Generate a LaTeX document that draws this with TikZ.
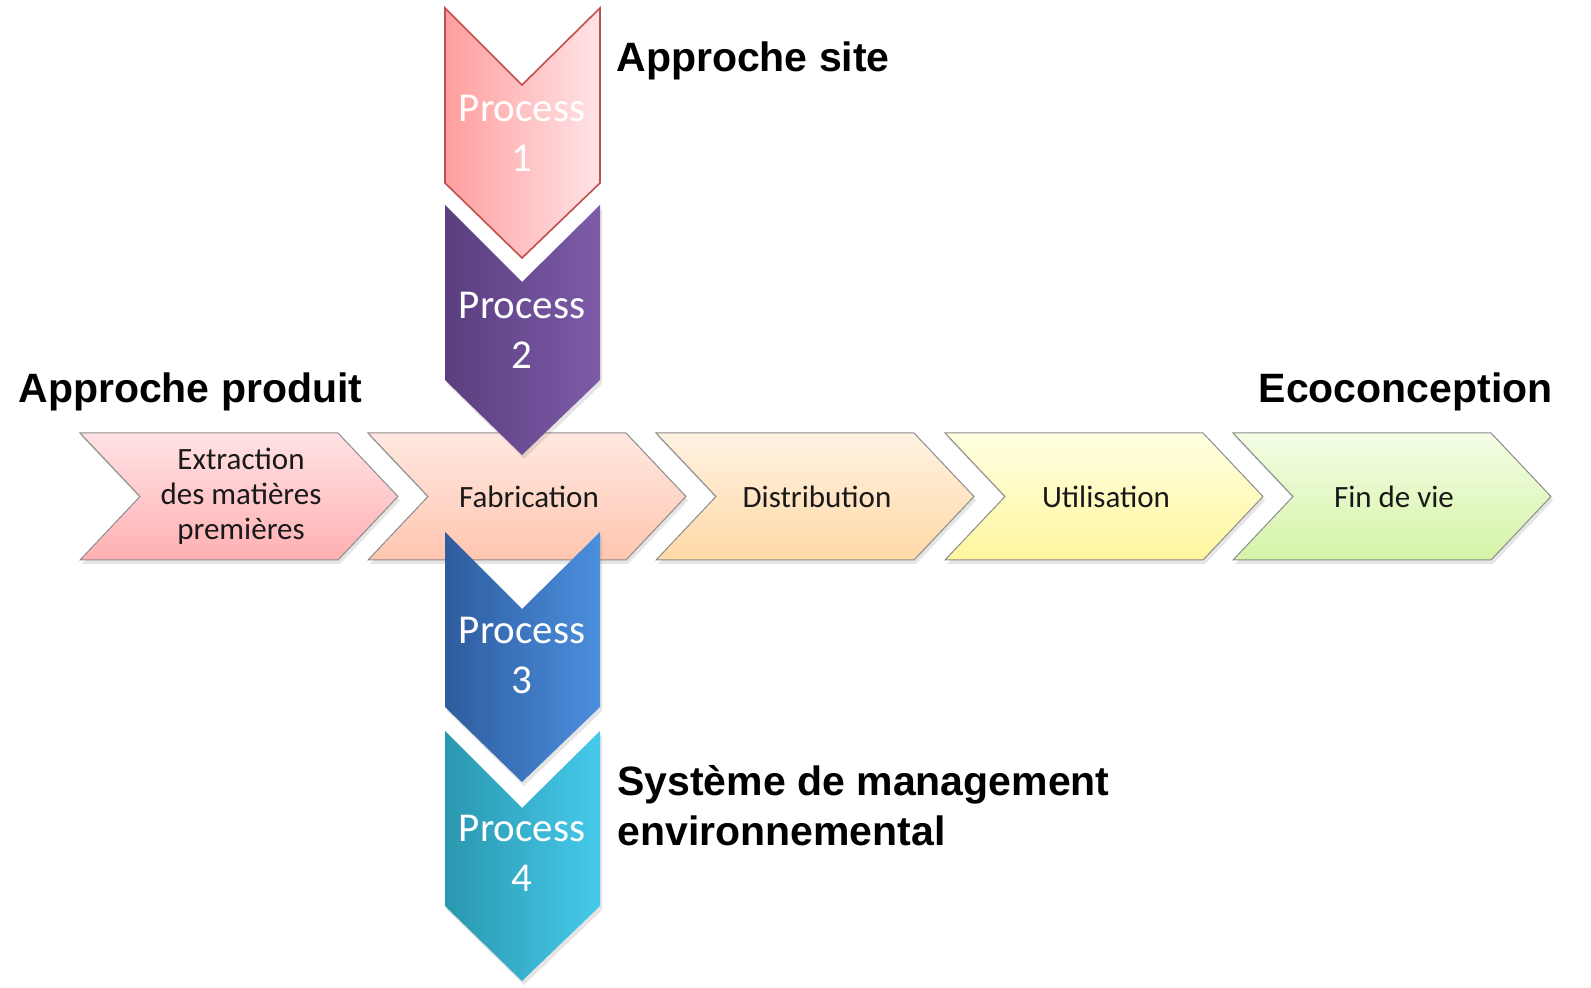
\documentclass[tikz,border=0pt]{standalone}
\usepackage{fontspec}
\newfontfamily\labelfont{Liberation Sans}
\newfontfamily\boxfont{Carlito}
\usetikzlibrary{shadows}

\definecolor{extrtop}{HTML}{FFE2E4}
\definecolor{extrbot}{HTML}{FFB0B2}
\definecolor{fabtop}{HTML}{FFE8E0}
\definecolor{fabbot}{HTML}{FFC6B0}
\definecolor{distop}{HTML}{FFF2E2}
\definecolor{disbot}{HTML}{FFD9A6}
\definecolor{utitop}{HTML}{FFFFE2}
\definecolor{utibot}{HTML}{FFF69E}
\definecolor{fintop}{HTML}{F3FDE6}
\definecolor{finbot}{HTML}{D5F4A6}
\definecolor{procAleft}{HTML}{FF9E9E}
\definecolor{procAright}{HTML}{FFE4E7}
\definecolor{procAline}{HTML}{C0504D}
\definecolor{procBleft}{HTML}{5A3E7E}
\definecolor{procBright}{HTML}{7E5BA9}
\definecolor{procCleft}{HTML}{2E5C9E}
\definecolor{procCright}{HTML}{4B8FDD}
\definecolor{procDleft}{HTML}{2A97AE}
\definecolor{procDright}{HTML}{46CAEC}

\begin{document}
\begin{tikzpicture}[
    x=0.5pt, y=-0.5pt,
    stage/.style={draw=black!45, line width=0.5pt, drop shadow={shadow xshift=1pt, shadow yshift=-2pt, opacity=0.2}},
    process/.style={drop shadow={shadow xshift=1pt, shadow yshift=-2pt, opacity=0.2}},
    stagetext/.style={align=center, font=\boxfont\fontsize{15.5}{17.5}\selectfont, text=black!90},
    processtext/.style={align=center, font=\boxfont\fontsize{20.5}{25}\selectfont, text=white},
    title/.style={font=\labelfont\bfseries\fontsize{20.5}{25}\selectfont, inner sep=0pt, align=left}
]
\useasboundingbox[fill=white] (0,0) rectangle (1591,988);

% Life cycle stages
\shade[stage, top color=extrtop, bottom color=extrbot] (80,433) -- (338,433) -- (398,496.5) -- (338,560) -- (80,560) -- (140,496.5) -- cycle;
\shade[stage, top color=fabtop, bottom color=fabbot] (368,433) -- (626,433) -- (686,496.5) -- (626,560) -- (368,560) -- (428,496.5) -- cycle;
\shade[stage, top color=distop, bottom color=disbot] (656,433) -- (914,433) -- (974,496.5) -- (914,560) -- (656,560) -- (716,496.5) -- cycle;
\shade[stage, top color=utitop, bottom color=utibot] (945,433) -- (1203,433) -- (1263,496.5) -- (1203,560) -- (945,560) -- (1005,496.5) -- cycle;
\shade[stage, top color=fintop, bottom color=finbot] (1233,433) -- (1491,433) -- (1551,496.5) -- (1491,560) -- (1233,560) -- (1293,496.5) -- cycle;

\node[stagetext] (extraction) at (241,496.5) {Extraction\\des matières\\premières};
\node[stagetext] (fabrication) at (529,496.5) {Fabrication};
\node[stagetext] (distribution) at (817,496.5) {Distribution};
\node[stagetext] (utilisation) at (1106,496.5) {Utilisation};
\node[stagetext] (findevie) at (1394,496.5) {Fin de vie};

% Site processes
\shade[left color=procAleft, right color=procAright, draw=procAline, line width=0.8pt] (445,8) -- (522,85) -- (600,8) -- (600,183) -- (522,258) -- (445,183) -- cycle;
\shade[process, left color=procBleft, right color=procBright] (445,205) -- (522,282) -- (600,205) -- (600,380) -- (522,455) -- (445,380) -- cycle;
\shade[process, left color=procCleft, right color=procCright] (445,532) -- (522,609) -- (600,532) -- (600,707) -- (522,782) -- (445,707) -- cycle;
\shade[process, left color=procDleft, right color=procDright] (445,731) -- (522,808) -- (600,731) -- (600,906) -- (522,981) -- (445,906) -- cycle;

\node[processtext] (process1) at (522,133) {Process\\1};
\node[processtext] (process2) at (522,330) {Process\\2};
\node[processtext] (process3) at (522,655) {Process\\3};
\node[processtext] (process4) at (522,853) {Process\\4};

% Titles
\node[title, anchor=base west] (site) at (616,71.5) {Approche site};
\node[title, anchor=base west] (produit) at (18,403) {Approche produit};
\node[title, anchor=base east] (eco) at (1553,403) {Ecoconception};
\node[title, anchor=base west] (sme) at (617,845) {Système de management\\environnemental};

\end{tikzpicture}
\end{document}
